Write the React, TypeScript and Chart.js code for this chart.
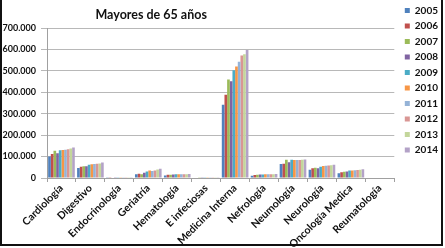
import React, { useEffect, useRef } from 'react';
import { Chart, registerables } from 'chart.js';

Chart.register(...registerables);

const categories = [
  'Cardiología', 'Digestivo', 'Endocrinología', 'Geriatría', 'Hematología', 'E infeciosas',
  'Medicina Interna', 'Nefrología', 'Neumología', 'Neurología', 'Oncología Medica', 'Reumatología',
];

const years = ['2005', '2006', '2007', '2008', '2009', '2010', '2011', '2012', '2013', '2014'];

const v2005 = [100000, 47000, 3000, 17000, 12000, 2000, 342000, 11000, 65000, 39000, 22000, 2000];
const v2006 = [112000, 53000, 3000, 20000, 15000, 2000, 389000, 14000, 67000, 45000, 27000, 2000];
const v2007 = [127000, 55000, 2000, 18000, 15000, 3000, 460000, 15000, 85000, 48000, 29000, 2000];
const v2008 = [115000, 55000, 1500, 24000, 16000, 3000, 452000, 16000, 73000, 45000, 30000, 2000];
const v2009 = [130000, 62000, 1000, 30000, 17000, 3000, 503000, 16000, 85000, 53000, 35000, 2000];
const v2010 = [131000, 64000, 1000, 35000, 17000, 3000, 520000, 17000, 84000, 56000, 35000, 2000];
const v2011 = [132000, 65000, 1000, 33000, 17000, 3000, 543000, 18000, 84000, 57000, 36000, 2000];
const v2012 = [134000, 67000, 1000, 35000, 18000, 3000, 572000, 18000, 84000, 58000, 37000, 2000];
const v2013 = [138000, 68000, 1000, 40000, 18000, 3000, 577000, 18000, 85000, 59000, 38000, 2000];
const v2014 = [142000, 72000, 1000, 43000, 19000, 3000, 597000, 19000, 86000, 62000, 41000, 2000];

const seriesValues = [v2005, v2006, v2007, v2008, v2009, v2010, v2011, v2012, v2013, v2014];

const seriesColors = [
  '#4F81BD', '#C0504D', '#9BBB59', '#8064A2', '#4BACC6',
  '#F79646', '#95B3D7', '#D99694', '#C3D69B', '#B3A2C7',
];

const titleText = 'Mayores de 65 años';
const yMax = 700000;
const yStep = 100000;

const FONT = 'Lato, "Liberation Sans", Arial, sans-serif';

function formatThousands(v: number): string {
  return Math.round(v).toString().replace(/\B(?=(\d{3})+(?!\d))/g, '.');
}

const titlePlugin = {
  id: 'customTitle',
  afterDraw(chart: any) {
    const { ctx, chartArea } = chart;
    ctx.save();
    ctx.font = `bold 12.5px ${FONT}`;
    ctx.fillStyle = '#111';
    ctx.textAlign = 'center';
    ctx.textBaseline = 'middle';
    const x = chartArea.left + (chartArea.right - chartArea.left) * 0.3;
    ctx.fillText(titleText, x, chartArea.top - 13);
    ctx.restore();
  },
};

export default function App() {
  const canvasRef = useRef<HTMLCanvasElement | null>(null);

  useEffect(() => {
    if (!canvasRef.current) return;
    const chart = new Chart(canvasRef.current, {
      type: 'bar',
      data: {
        labels: categories,
        datasets: years.map((y, i) => ({
          label: y,
          data: seriesValues[i],
          backgroundColor: seriesColors[i],
          borderWidth: 0,
          categoryPercentage: 0.92,
          barPercentage: 1,
        })),
      },
      options: {
        animation: false,
        responsive: false,
        devicePixelRatio: 1,
        layout: { padding: { top: 0, right: -3, bottom: 0, left: 0 } },
        plugins: {
          legend: {
            position: 'right',
            align: 'start',
            labels: {
              boxWidth: 5,
              boxHeight: 5,
              padding: 5.5,
              color: '#111',
              font: { family: FONT, size: 10, weight: 'bold' },
            },
          },
          title: { display: false },
          tooltip: { enabled: false },
        },
        scales: {
          x: {
            grid: { display: true, drawOnChartArea: false, drawTicks: true, tickLength: 4, color: '#a0a0a0', offset: true },
            border: { color: '#a0a0a0' },
            ticks: {
              autoSkip: false,
              maxRotation: 45,
              minRotation: 45,
              padding: 0,
              color: '#111',
              font: { family: FONT, size: 10.5, weight: 'bold' },
            },
            afterFit(s: any) { s.height = 70; },
          },
          y: {
            min: 0,
            max: yMax,
            ticks: {
              stepSize: yStep,
              padding: 5,
              color: '#111',
              font: { family: FONT, size: 9, weight: 'bold' },
              callback: (v: any) => formatThousands(Number(v)),
            },
            grid: { color: '#b8b8b8', tickLength: 6 },
            border: { color: '#a0a0a0' },
            afterFit(s: any) { s.width = 47; },
          },
          yRight: {
            type: 'linear',
            position: 'right',
            display: true,
            grid: { display: false },
            border: { display: false },
            ticks: { display: false },
            afterFit(s: any) { s.width = 5; },
          },
          xTop: {
            type: 'linear',
            position: 'top',
            display: true,
            grid: { display: false },
            border: { display: false },
            ticks: { display: false },
            afterFit(s: any) { s.height = 28; },
          },
        },
      } as any,
      plugins: [titlePlugin],
    });
    return () => chart.destroy();
  }, []);

  return (
    <div style={{ position: 'absolute', left: 0, top: 0, width: 445, height: 248, background: '#fff' }}>
      <canvas ref={canvasRef} width={445} height={248} style={{ display: 'block', width: 445, height: 248 }} />
      <div
        style={{
          position: 'absolute',
          left: 0,
          top: 0,
          width: 443,
          height: 246,
          boxSizing: 'border-box',
          borderStyle: 'solid',
          borderColor: '#111',
          borderWidth: '0 2px 2px 2px',
          pointerEvents: 'none',
        }}
      />
    </div>
  );
}
